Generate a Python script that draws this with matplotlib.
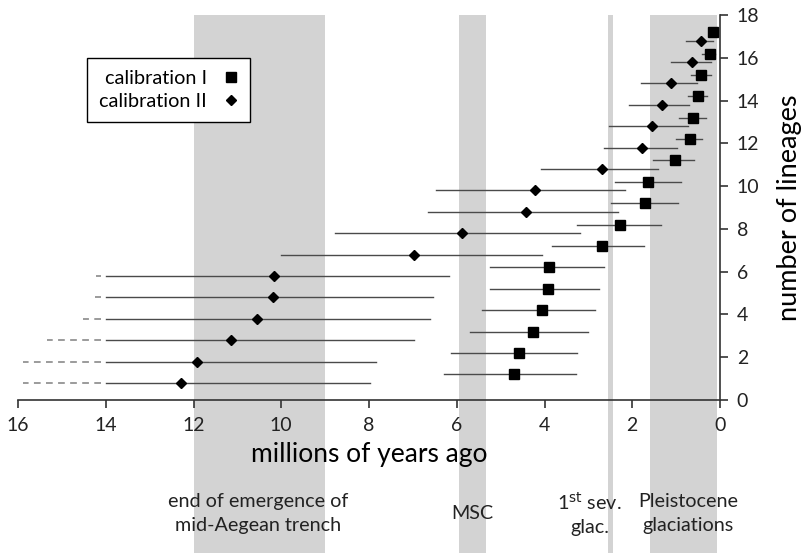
import numpy as np
import matplotlib.pyplot as plt
from matplotlib.lines import Line2D

plt.rcParams['font.family'] = ['Lato', 'DejaVu Sans']

# --- data (ages in Ma) ---
cal1_y = [1.2, 2.2, 3.2, 4.2, 5.2, 6.2, 7.2, 8.2, 9.2, 10.2, 11.2, 12.2, 13.2, 14.2, 15.2, 16.2, 17.2]
cal1_age = [4.70, 4.59, 4.27, 4.05, 3.93, 3.90, 2.69, 2.27, 1.70, 1.63, 1.03, 0.68, 0.61, 0.51, 0.43, 0.23, 0.16]
cal1_old = [6.30, 6.14, 5.70, 5.43, 5.24, 5.24, 3.84, 3.27, 2.49, 2.40, 1.52, 1.00, 0.94, 0.74, 0.65, 0.42, 0.22]
cal1_young = [3.29, 3.26, 3.01, 2.85, 2.75, 2.64, 1.73, 1.35, 0.95, 0.89, 0.59, 0.42, 0.32, 0.29, 0.21, 0.11, 0.12]

cal2_y = [0.8, 1.8, 2.8, 3.8, 4.8, 5.8, 6.8, 7.8, 8.8, 9.8, 10.8, 11.8, 12.8, 13.8, 14.8, 15.8, 16.8]
cal2_age = [12.29, 11.91, 11.15, 10.55, 10.19, 10.17, 6.98, 5.87, 4.42, 4.22, 2.70, 1.77, 1.55, 1.33, 1.12, 0.63, 0.44]
cal2_old = [15.89, 15.89, 15.33, 14.52, 14.25, 14.23, 10.00, 8.77, 6.65, 6.48, 4.07, 2.65, 2.52, 2.07, 1.80, 1.12, 0.77]
cal2_young = [7.98, 7.84, 6.98, 6.60, 6.53, 6.17, 4.05, 3.18, 2.32, 2.17, 1.42, 0.98, 0.74, 0.70, 0.53, 0.21, 0.15]

# shaded periods (start, end) and their captions
bands = [(12.0, 9.0), (5.96, 5.33), (2.55, 2.45), (1.6, 0.06)]
band_text = [(10.53, "end of emergence of\nmid-Aegean trench"), (5.65, "MSC"),
             (2.97, "1$^{\\rm st}$ sev.\nglac."), (0.73, "Pleistocene\nglaciations")]

x_ticks = np.arange(0, 17, 2)
y_ticks = np.arange(0, 19, 2)

solid_cut = 14.0  # bars older than this are drawn dashed

fig = plt.figure(figsize=(8.01, 5.56), dpi=100)
ax = fig.add_axes([18/801, 1 - 400/556, 702/801, 385/556])

band_col = '#d3d3d3'
for a, b in bands:
    ax.axvspan(a, b, ymin=-0.398, ymax=1.0, color=band_col, lw=0, zorder=0, clip_on=False)

line_col = '#4a4a4a'
# calibration I
for y, o, yg in zip(cal1_y, cal1_old, cal1_young):
    ax.plot([o, yg], [y, y], color=line_col, lw=1.0, zorder=2)
ax.plot(cal1_age, cal1_y, 's', color='black', ms=7.5, zorder=3, clip_on=False)

# calibration II, with dashed extension beyond 14 Ma
for y, o, yg in zip(cal2_y, cal2_old, cal2_young):
    if o > solid_cut:
        ax.plot([solid_cut, yg], [y, y], color=line_col, lw=1.0, zorder=2)
        ax.plot([solid_cut + 0.11, o], [y, y], color='#808080', lw=1.1,
                linestyle=(0, (4.4, 3.5)), zorder=2, clip_on=False)
    else:
        ax.plot([o, yg], [y, y], color=line_col, lw=1.0, zorder=2)
ax.plot(cal2_age, cal2_y, 'D', color='black', ms=5.2, zorder=3)

ax.set_xlim(16, 0)
ax.set_ylim(0, 18)
ax.set_xticks(x_ticks)
ax.set_yticks(y_ticks)

ax.spines['top'].set_visible(False)
ax.spines['left'].set_visible(False)
for s in ('bottom', 'right'):
    ax.spines[s].set_color('#333333')
    ax.spines[s].set_linewidth(1.2)
ax.yaxis.tick_right()
ax.tick_params(axis='both', direction='out', length=6, width=1.2, color='#333333',
               labelsize=14, colors='#222222')
ax.tick_params(axis='x', pad=6)
ax.tick_params(axis='y', pad=6)

ax.set_xlabel("millions of years ago", fontsize=19, labelpad=6)
ax.yaxis.set_label_position('right')
ax.set_ylabel("number of lineages", fontsize=19.5, labelpad=13)

for x, txt in band_text:
    ax.text(x, -5.3, txt, ha='center', va='center', fontsize=14.2,
            linespacing=1.5, color='#222222')

handles = [Line2D([], [], marker='s', ls='none', color='black', ms=6.5),
           Line2D([], [], marker='D', ls='none', color='black', ms=5)]
leg = ax.legend(handles, ["calibration I", "calibration II"], markerfirst=False,
                loc='upper left', bbox_to_anchor=(87/801, 1 - 58/556),
                bbox_transform=fig.transFigure, fontsize=14.3, fancybox=False,
                framealpha=1, edgecolor='black', handlelength=0.8,
                handletextpad=0.8, borderpad=0.6, labelspacing=0.3,
                borderaxespad=0)
leg.get_frame().set_linewidth(1.0)

fig.savefig("out.png", dpi=100)
